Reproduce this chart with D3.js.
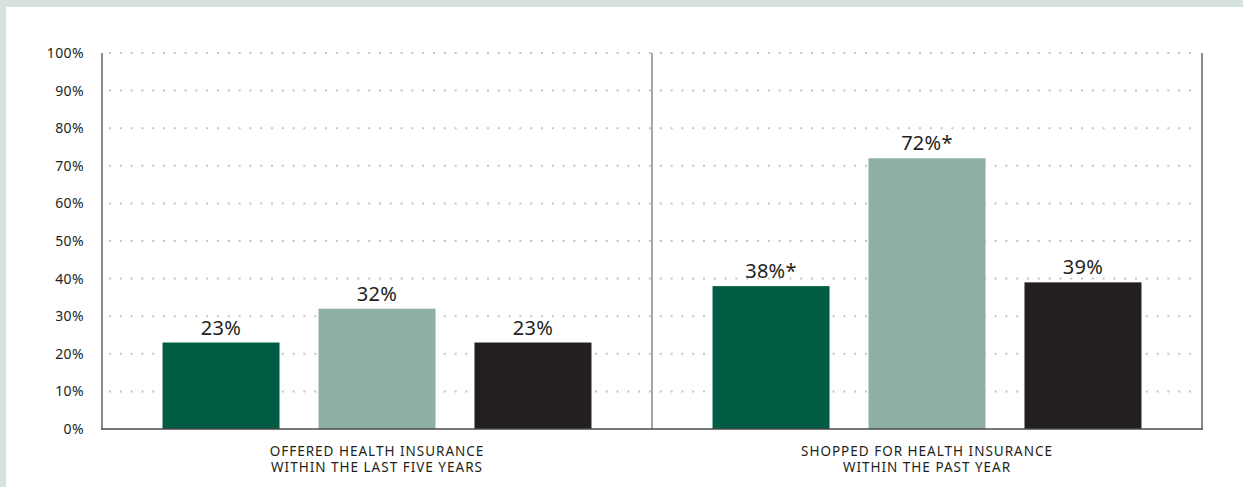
<!DOCTYPE html>
<html>
<head>
<meta charset="utf-8">
<script src="https://cdn.jsdelivr.net/npm/d3@7"></script>
<style>
  html, body { margin: 0; padding: 0; background: #d5e3dc; }
  svg { display: block; }
</style>
</head>
<body>
<svg id="chart" width="1243" height="487"></svg>
<script>
// Survey outcomes: share of respondents by group
const categories = [
  ["OFFERED HEALTH INSURANCE", "WITHIN THE LAST FIVE YEARS"],
  ["SHOPPED FOR HEALTH INSURANCE", "WITHIN THE PAST YEAR"]
];
const seriesA = [23, 38];
const seriesB = [32, 72];
const seriesC = [23, 39];
const valueLabels = [
  ["23%", "32%", "23%"],
  ["38%*", "72%*", "39%"]
];
const tickValues = [0, 10, 20, 30, 40, 50, 60, 70, 80, 90, 100];
const tickLabels = ["0%", "10%", "20%", "30%", "40%", "50%", "60%", "70%", "80%", "90%", "100%"];
const seriesColors = ["#005c42", "#8eb0a3", "#231f20"];

const svg = d3.select("#chart");
const W = 1243, H = 487;
const margin = { left: 102, right: 41, top: 53, bottom: 58 };

// white panel
svg.append("rect").attr("x", 6).attr("y", 7).attr("width", W - 6).attr("height", H - 7).attr("fill", "#ffffff");

const x0 = d3.scaleBand().domain(d3.range(categories.length))
  .range([margin.left, W - margin.right]).padding(0);
const x1 = d3.scaleBand().domain([0, 1, 2])
  .range([0, x0.bandwidth()]).paddingInner(0.25).paddingOuter(0.388);
const y = d3.scaleLinear().domain([0, 100]).range([H - margin.bottom, margin.top]);

const font = "'Noto Sans', 'Open Sans', sans-serif";

// dotted gridlines
svg.append("g").selectAll("line").data(tickValues.filter(d => d > 0)).join("line")
  .attr("x1", margin.left + 7).attr("x2", W - margin.right - 3)
  .attr("y1", d => y(d)).attr("y2", d => y(d))
  .attr("stroke", "#c4c4c4").attr("stroke-width", 2)
  .attr("stroke-dasharray", "2,8.8");

// y axis tick labels
const yAxis = d3.axisLeft(y).tickValues(tickValues)
  .tickFormat((d, i) => tickLabels[i]).tickSize(0).tickPadding(18);
const gy = svg.append("g").attr("transform", `translate(${margin.left},0)`).call(yAxis);
gy.select(".domain").remove();
gy.selectAll("text").attr("font-family", font).attr("font-size", 14)
  .attr("letter-spacing", 0.4).attr("fill", "#231f20");

// bars
const data = categories.map((c, i) => [seriesA[i], seriesB[i], seriesC[i]]);
const groups = svg.append("g").selectAll("g").data(data).join("g")
  .attr("transform", (d, i) => `translate(${x0(i)},0)`);
groups.selectAll("rect").data(d => d).join("rect")
  .attr("x", (d, j) => x1(j)).attr("width", x1.bandwidth())
  .attr("y", d => y(d)).attr("height", d => y(0) - y(d))
  .attr("fill", (d, j) => seriesColors[j]);
groups.each(function (d, i) {
  d3.select(this).selectAll("text.val").data(d).join("text").attr("class", "val")
    .attr("x", (v, j) => x1(j) + x1.bandwidth() / 2)
    .attr("y", v => y(v) - 8)
    .attr("text-anchor", "middle")
    .attr("font-family", font).attr("font-size", 20).attr("letter-spacing", 0.3)
    .attr("fill", "#231f20")
    .text((v, j) => valueLabels[i][j]);
});

// axis frame lines
svg.append("line").attr("x1", margin.left).attr("x2", margin.left)
  .attr("y1", y(100)).attr("y2", y(0)).attr("stroke", "#8a8a8a").attr("stroke-width", 2);
svg.append("line").attr("x1", W - margin.right).attr("x2", W - margin.right)
  .attr("y1", y(100)).attr("y2", y(0)).attr("stroke", "#8a8a8a").attr("stroke-width", 2);
svg.append("line").attr("x1", x0(1)).attr("x2", x0(1))
  .attr("y1", y(100)).attr("y2", y(0)).attr("stroke", "#8a8a8a").attr("stroke-width", 1.5);
svg.append("line").attr("x1", margin.left - 1).attr("x2", W - margin.right + 1)
  .attr("y1", y(0)).attr("y2", y(0)).attr("stroke", "#4a4a4a").attr("stroke-width", 1.5);

// category labels
categories.forEach((lines, i) => {
  const cx = x0(i) + x0.bandwidth() / 2;
  const t = svg.append("text")
    .attr("x", cx).attr("y", 455.5)
    .attr("text-anchor", "middle")
    .attr("font-family", font).attr("font-size", 13.5).attr("letter-spacing", 1)
    .attr("fill", "#231f20");
  lines.forEach((l, k) => t.append("tspan")
    .attr("x", cx).attr("dy", k === 0 ? 0 : 16.2).text(l));
});
</script>
</body>
</html>
